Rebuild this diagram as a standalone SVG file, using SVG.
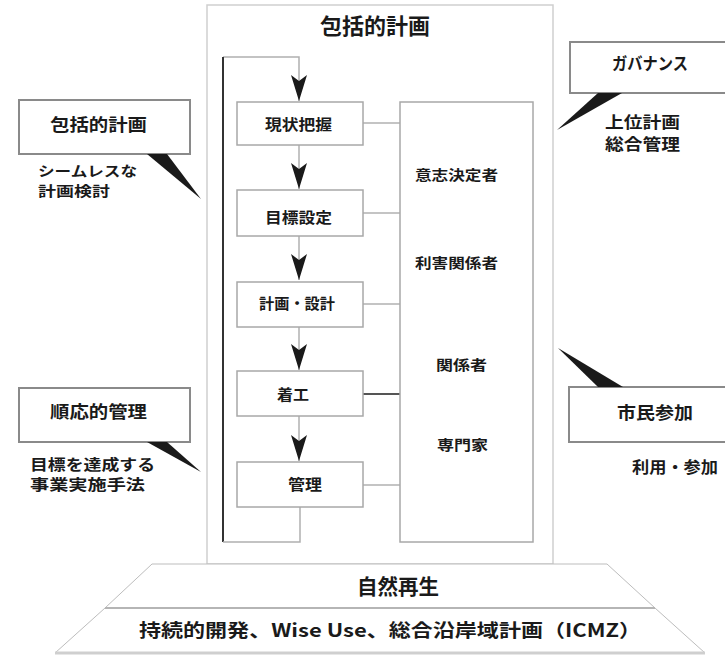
<svg xmlns="http://www.w3.org/2000/svg" width="725" height="656" viewBox="0 0 725 656">
<style>
text{font-family:"Noto Sans CJK JP","Noto Sans",sans-serif;font-weight:bold;fill:#1a1a1a}
.outer{fill:#fff;stroke:#cfcfcf;stroke-width:1.5}
.call{fill:#fff;stroke:#8a8a8a;stroke-width:2}
.proc{fill:#fff;stroke:#a8a8a8;stroke-width:1.5}
.tail{fill:#1a1a1a}
.conn{stroke:#b0b0b0;stroke-width:1.5;fill:none}
.loop{stroke:#333;stroke-width:2;fill:none}
.trap{fill:#fff;stroke:#bdbdbd;stroke-width:1}
.hl{stroke:#b5b5b5;stroke-width:2}
</style>
<defs>
<marker id="ah" viewBox="0 0 26 16" markerWidth="26" markerHeight="16" refX="26" refY="8" orient="auto" markerUnits="userSpaceOnUse">
<path d="M0,0 L26,8 L0,16 L6,8 Z" fill="#1a1a1a"/>
</marker>
</defs>

<g id="outer-plan">
<rect class="outer" x="207" y="5" width="346" height="559"/>
<text x="320" y="34" font-size="22" textLength="110" lengthAdjust="spacingAndGlyphs">包括的計画</text>
</g>

<g id="base">
<polygon class="trap" points="152,564 607,564 655,608 105,608"/>
<polygon class="trap" points="105,608 655,608 705,653 55,653"/>
<line class="hl" x1="105" y1="608" x2="655" y2="608"/>
<line x1="55" y1="653" x2="705" y2="653" stroke="#cfcfcf" stroke-width="3"/>
<text x="357" y="594" font-size="21" textLength="82" lengthAdjust="spacingAndGlyphs">自然再生</text>
<text x="139" y="637" font-size="18" textLength="502" lengthAdjust="spacingAndGlyphs">持続的開発、Wise Use、総合沿岸域計画（ICMZ）</text>
</g>

<g id="callout-plan">
<rect class="call" x="19" y="100" width="171" height="54"/>
<polygon class="tail" points="147,154 167,154 201,199"/>
<text x="50" y="131" font-size="17" textLength="97" lengthAdjust="spacingAndGlyphs">包括的計画</text>
<text x="38" y="176" font-size="14" textLength="99" lengthAdjust="spacingAndGlyphs">シームレスな</text>
<text x="38" y="196" font-size="14" textLength="72" lengthAdjust="spacingAndGlyphs">計画検討</text>
</g>

<g id="callout-adaptive">
<rect class="call" x="19" y="388" width="171" height="54"/>
<polygon class="tail" points="147,442 167,442 201,472"/>
<text x="50" y="418" font-size="17" textLength="97" lengthAdjust="spacingAndGlyphs">順応的管理</text>
<text x="30" y="470" font-size="15" textLength="125" lengthAdjust="spacingAndGlyphs">目標を達成する</text>
<text x="30" y="490" font-size="15" textLength="115" lengthAdjust="spacingAndGlyphs">事業実施手法</text>
</g>

<g id="callout-governance">
<rect class="call" x="570" y="42" width="160" height="51"/>
<polygon class="tail" points="598,93 622,93 557,130"/>
<text x="612" y="70" font-size="17" textLength="76" lengthAdjust="spacingAndGlyphs">ガバナンス</text>
<text x="605" y="128" font-size="16" textLength="75" lengthAdjust="spacingAndGlyphs">上位計画</text>
<text x="605" y="150" font-size="16" textLength="75" lengthAdjust="spacingAndGlyphs">総合管理</text>
</g>

<g id="callout-citizen">
<rect class="call" x="569" y="387" width="160" height="55"/>
<polygon class="tail" points="598,387 623,387 558,348"/>
<text x="617" y="419" font-size="17" textLength="76" lengthAdjust="spacingAndGlyphs">市民参加</text>
<text x="632" y="473" font-size="16" textLength="86" lengthAdjust="spacingAndGlyphs">利用・参加</text>
</g>

<g id="connectors">
<polyline class="conn" points="223,57 299,57 299,101" marker-end="url(#ah)"/>
<line class="loop" x1="223" y1="57" x2="223" y2="542"/>
<polyline class="conn" points="223,542 300,542 300,507"/>
<line class="conn" x1="299" y1="145" x2="299" y2="189" marker-end="url(#ah)"/>
<line class="conn" x1="299" y1="236" x2="299" y2="280" marker-end="url(#ah)"/>
<line class="conn" x1="299" y1="327" x2="299" y2="370" marker-end="url(#ah)"/>
<line class="conn" x1="299" y1="416" x2="299" y2="461" marker-end="url(#ah)"/>
<line class="conn" x1="363" y1="123" x2="400" y2="123"/>
<line class="conn" x1="363" y1="213" x2="400" y2="213"/>
<line class="conn" x1="363" y1="304" x2="400" y2="304"/>
<line x1="363" y1="394" x2="400" y2="394" stroke="#555" stroke-width="2"/>
<line class="conn" x1="363" y1="485" x2="400" y2="485"/>
</g>

<g id="step-survey">
<rect class="proc" x="237" y="102" width="126" height="43"/>
<text x="265" y="130" font-size="15" textLength="67" lengthAdjust="spacingAndGlyphs">現状把握</text>
</g>
<g id="step-goal">
<rect class="proc" x="237" y="190" width="126" height="46"/>
<text x="265" y="223" font-size="15" textLength="67" lengthAdjust="spacingAndGlyphs">目標設定</text>
</g>
<g id="step-design">
<rect class="proc" x="237" y="282" width="126" height="45"/>
<text x="259" y="309" font-size="15" textLength="76" lengthAdjust="spacingAndGlyphs">計画・設計</text>
</g>
<g id="step-build">
<rect class="proc" x="237" y="371" width="126" height="45"/>
<text x="277" y="400" font-size="15" textLength="32" lengthAdjust="spacingAndGlyphs">着工</text>
</g>
<g id="step-manage">
<rect class="proc" x="237" y="462" width="126" height="45"/>
<text x="288" y="490" font-size="15" textLength="34" lengthAdjust="spacingAndGlyphs">管理</text>
</g>

<g id="stakeholders">
<rect class="proc" x="400" y="102" width="133" height="440"/>
<text x="415" y="180" font-size="14" textLength="83" lengthAdjust="spacingAndGlyphs">意志決定者</text>
<text x="415" y="268" font-size="14" textLength="83" lengthAdjust="spacingAndGlyphs">利害関係者</text>
<text x="436" y="370" font-size="14" textLength="51" lengthAdjust="spacingAndGlyphs">関係者</text>
<text x="437" y="450" font-size="14" textLength="51" lengthAdjust="spacingAndGlyphs">専門家</text>
</g>
</svg>
